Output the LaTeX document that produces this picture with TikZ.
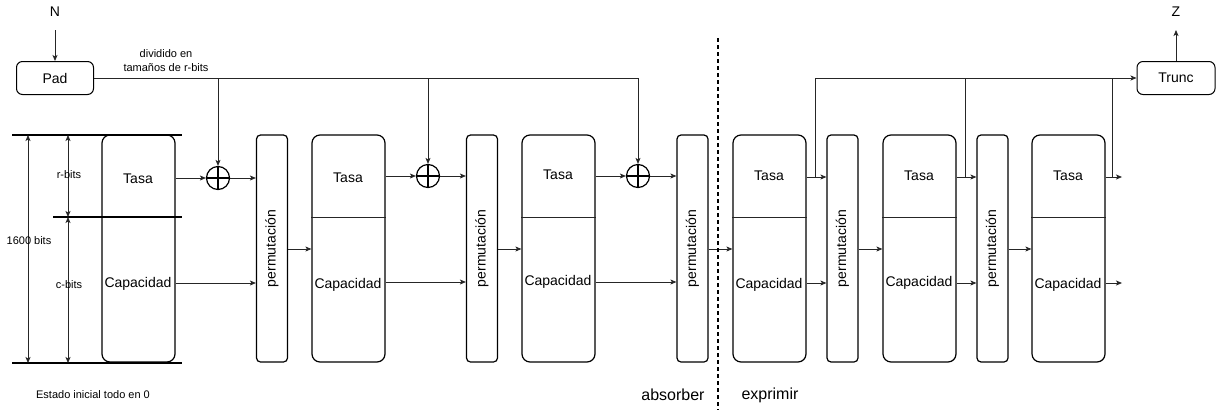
\documentclass[tikz,border=0pt]{standalone}
\usepackage{fontspec}
\setmainfont{Liberation Sans}
\usetikzlibrary{arrows.meta,calc}
\begin{document}
\begin{tikzpicture}[x=1pt,y=-1pt,
  conn/.style={line width=0.8pt, draw=black!85},
  arr/.style={conn, -{Stealth[length=6pt,width=5pt,inset=1.5pt]}},
  dimarr/.style={conn, {Stealth[length=6pt,width=5pt,inset=1.5pt]}-{Stealth[length=6pt,width=5pt,inset=1.5pt]}},
  thickline/.style={line width=1.3pt, draw=black},
  statebox/.style={draw, line width=1.2pt, rounded corners=8pt, minimum width=73pt, minimum height=227pt, inner sep=0pt},
  permbox/.style={draw, line width=1.2pt, rounded corners=4pt, minimum width=31pt, minimum height=227pt, inner sep=0pt, font=\fontsize{14}{16}\selectfont},
  lbl/.style={font=\fontsize{14}{16}\selectfont, inner sep=0pt},
  small/.style={font=\fontsize{11}{14}\selectfont, inner sep=0pt},
  big/.style={font=\fontsize{16}{18}\selectfont, inner sep=0pt},
  iobox/.style={draw, line width=1pt, rounded corners=6pt, minimum height=33pt, inner sep=0pt, font=\fontsize{14}{16}\selectfont},
  xorc/.style={draw, circle, line width=1.2pt, minimum size=23pt, inner sep=0pt}
]
\fill[white] (0,0) rectangle (1218,410);
\useasboundingbox (0,0) rectangle (1218,410);

% reference rows
\coordinate (yT) at (0,177);
\coordinate (yC) at (0,283);
\coordinate (yM) at (0,249);
\coordinate (ymid) at (0,217);

% input / output
\node[iobox, minimum width=77pt] (pad) at (55,78) {Pad};
\node[iobox, minimum width=78pt] (trunc) at (1176,78) {Trunc};
\node[lbl] (N) at (55,12) {N};
\node[lbl] (Z) at (1176,12) {Z};
\coordinate (nin) at (55,30);
\coordinate (zout) at (1176,30);
\draw[arr] (nin) -- (pad.north);
\draw[arr] (trunc.north) -- (zout);
\node[small, align=center] (div) at (166,61) {dividido en\\tamaños de r-bits};

% state boxes
\node[statebox] (b1) at (138.5,248.5) {};
\node[statebox] (b2) at (348.5,248.5) {};
\node[statebox] (b3) at (558.5,248.5) {};
\node[statebox] (b4) at (769.5,248.5) {};
\node[statebox] (b5) at (919.5,248.5) {};
\node[statebox] (b6) at (1068.5,248.5) {};

\node[lbl] (t1) at (138,179) {Tasa};
\node[lbl] (c1) at (138,284) {Capacidad};
\node[lbl] (t2) at (348,178) {Tasa};
\node[lbl] (c2) at (348,285) {Capacidad};
\node[lbl] (t3) at (558,175) {Tasa};
\node[lbl] (c3) at (558,282) {Capacidad};
\node[lbl] (t4) at (769,176) {Tasa};
\node[lbl] (c4) at (769,285) {Capacidad};
\node[lbl] (t5) at (919,176) {Tasa};
\node[lbl] (c5) at (919,283) {Capacidad};
\node[lbl] (t6) at (1068,176) {Tasa};
\node[lbl] (c6) at (1068,285) {Capacidad};

\foreach \b in {b2,b3,b4,b5,b6}{
  \draw[conn] (\b.west |- ymid) -- (\b.east |- ymid);
}

% permutation boxes
\node[permbox] (p1) at (272,248.5) {\rotatebox{90}{permutación}};
\node[permbox] (p2) at (482,248.5) {\rotatebox{90}{permutación}};
\node[permbox] (p3) at (692.5,248.5) {\rotatebox{90}{permutación}};
\node[permbox] (p4) at (842.5,248.5) {\rotatebox{90}{permutación}};
\node[permbox] (p5) at (992.5,248.5) {\rotatebox{90}{permutación}};

% xor nodes
\node[xorc] (x1) at (218,178) {};
\node[xorc] (x2) at (428,176) {};
\node[xorc] (x3) at (638,176) {};
\foreach \x in {x1,x2,x3}{
  \draw[line width=1.2pt] (\x.north) -- (\x.south) (\x.west) -- (\x.east);
}

% left dimension lines
\draw[thickline] (12,135) -- (182,135);
\draw[thickline] (53,217) -- (182,217);
\draw[thickline] (12,363) -- (182,363);
\coordinate (d1a) at (28,135);
\coordinate (d1b) at (28,363);
\coordinate (d2a) at (68,135);
\coordinate (d2b) at (68,217);
\coordinate (d3b) at (68,363);
\draw[dimarr] (d1a) -- (d1b);
\draw[dimarr] (d2a) -- (d2b);
\draw[dimarr] (d2b) -- (d3b);
\node[small] (rb) at (69,175) {r-bits};
\node[small] (tb) at (29,241) {1600 bits};
\node[small] (cb) at (69,285) {c-bits};
\node[small] (est) at (93,395) {Estado inicial todo en 0};

% message distribution
\draw[arr] (pad.east) -| (x3.north);
\draw[arr] (x1.north |- pad.east) -- (x1.north);
\draw[arr] (x2.north |- pad.east) -- (x2.north);

% absorb chain
\draw[arr] (x1.west -| b1.east) -- (x1.west);
\draw[arr] (x1.east) -- (x1.east -| p1.west);
\draw[arr] (b1.east |- yC) -- (p1.west |- yC);
\draw[arr] (p1.east |- yM) -- (b2.west |- yM);
\draw[arr] (x2.west -| b2.east) -- (x2.west);
\draw[arr] (x2.east) -- (x2.east -| p2.west);
\draw[arr] (b2.east |- 0,282) -- (p2.west |- 0,282);
\draw[arr] (p2.east |- yM) -- (b3.west |- yM);
\draw[arr] (x3.west -| b3.east) -- (x3.west);
\draw[arr] (x3.east) -- (x3.east -| p3.west);
\draw[arr] (b3.east |- 0,282) -- (p3.west |- 0,282);
\draw[arr] (p3.east |- yM) -- (b4.west |- yM);

% squeeze chain
\draw[arr] (b4.east |- yT) -- (p4.west |- yT);
\draw[arr] (b4.east |- yC) -- (p4.west |- yC);
\draw[arr] (p4.east |- yM) -- (b5.west |- yM);
\draw[arr] (b5.east |- yT) -- (p5.west |- yT);
\draw[arr] (b5.east |- yC) -- (p5.west |- yC);
\draw[arr] (p5.east |- yM) -- (b6.west |- yM);
\coordinate (o1) at (1122,177);
\coordinate (o2) at (1122,283);
\draw[arr] (b6.east |- yT) -- (o1);
\draw[arr] (b6.east |- yC) -- (o2);

% taps to Trunc
\coordinate (tap1) at (815,177);
\coordinate (tap2) at (965,177);
\coordinate (tap3) at (1112,177);
\draw[arr] (tap1) |- (trunc.west);
\draw[conn] (tap2) -- (tap2 |- trunc.west);
\draw[conn] (tap3) -- (tap3 |- trunc.west);

% phase separator
\draw[line width=1.3pt, dash pattern=on 4pt off 3pt] (718,38) -- (718,410);
\node[big] (abs) at (673,395) {absorber};
\node[big] (exp) at (770,395) {exprimir};
\end{tikzpicture}
\end{document}
